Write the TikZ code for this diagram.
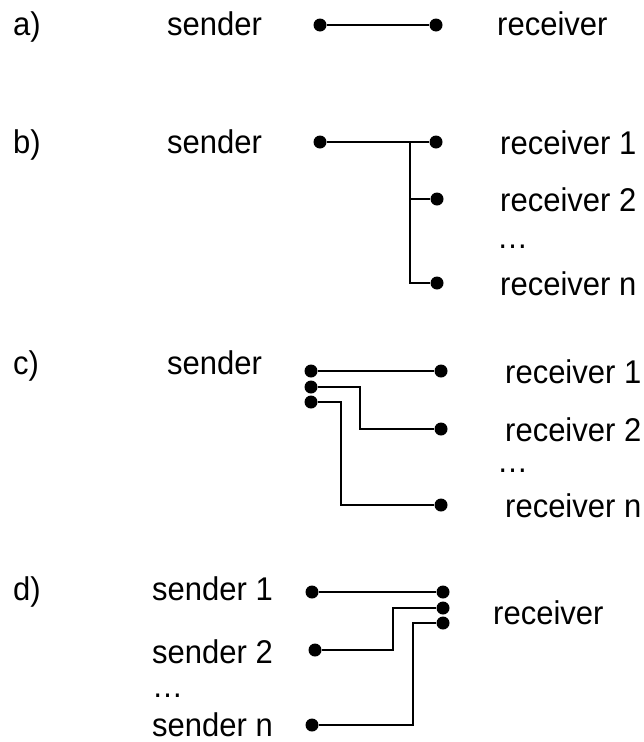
\documentclass[tikz,border=0pt]{standalone}
\usepackage{fontspec}
\setmainfont{Liberation Sans}
\tikzset{
  lbl/.style={anchor=base west, inner sep=0pt, font=\fontsize{31}{37}\selectfont, yscale=1.06, transform shape},
  pin/.style={circle, fill=black, inner sep=0pt, minimum size=13pt},
  wire/.style={black, line width=1.9pt}
}

\begin{document}
\begin{tikzpicture} [x=1pt, y=-1pt]
\useasboundingbox (0,0) rectangle (644,742);
\node[lbl] (la) at (13, 35){a)};
\node[lbl] (lsa) at (167, 35){sender};
\node[lbl] (lra) at (497, 35){receiver};
\node[pin] (sa) at (320, 25){};
\node[pin] (ra) at (436, 25){};
\draw[wire] (sa) -- (ra);

\node[lbl] (lb) at (13, 153){b)};
\node[lbl] (lsb) at (167, 153){sender};
\node[lbl] (lrb1) at (500, 154){receiver 1};
\node[lbl] (lrb2) at (500, 211){receiver 2};
\node[lbl] (ldb) at (497, 248){\dots};
\node[lbl] (lrbn) at (500, 295){receiver n};
\node[pin] (sb) at (320, 142){};
\node[pin] (rb1) at (436, 142){};
\node[pin] (rb2) at (437, 199){};
\node[pin] (rbn) at (437, 283){};
\coordinate (jb) at (410, 142);
\draw[wire] (sb) -- (rb1);
\draw[wire] (jb) |- (rbn);
\draw[wire] (jb |- rb2) -- (rb2);

\node[lbl] (lc) at (13, 374){c)};
\node[lbl] (lsc) at (167, 374){sender};
\node[lbl] (lrc1) at (505, 383){receiver 1};
\node[lbl] (lrc2) at (505, 441){receiver 2};
\node[lbl] (ldc) at (497, 472){\dots};
\node[lbl] (lrcn) at (505, 517){receiver n};
\node[pin] (sc1) at (311, 371){};
\node[pin] (sc2) at (311, 387){};
\node[pin] (sc3) at (311, 402){};
\node[pin] (rc1) at (441, 371){};
\node[pin] (rc2) at (441, 429){};
\node[pin] (rcn) at (441, 505){};
\coordinate (kc2) at (360, 0);
\coordinate (kcn) at (341, 0);
\draw[wire] (sc1) -- (rc1);
\draw[wire] (sc2) -| (kc2 |- rc2) -- (rc2);
\draw[wire] (sc3) -| (kcn |- rcn) -- (rcn);

\node[lbl] (ld) at (13, 600){d)};
\node[lbl] (lsd1) at (152, 600){sender 1};
\node[lbl] (lsd2) at (152, 663){sender 2};
\node[lbl] (ldd) at (152, 697){\dots};
\node[lbl] (lsdn) at (152, 736){sender n};
\node[lbl] (lrd) at (493, 624){receiver};
\node[pin] (sd1) at (312, 592){};
\node[pin] (sd2) at (315, 650){};
\node[pin] (sdn) at (312, 725){};
\node[pin] (rd1) at (443, 592){};
\node[pin] (rd2) at (443, 608){};
\node[pin] (rdn) at (443, 623){};
\coordinate (kd2) at (393, 0);
\coordinate (kdn) at (413, 0);
\draw[wire] (sd1) -- (rd1);
\draw[wire] (sd2) -| (kd2 |- rd2) -- (rd2);
\draw[wire] (sdn) -| (kdn |- rdn) -- (rdn);
\end{tikzpicture}
\end{document}
